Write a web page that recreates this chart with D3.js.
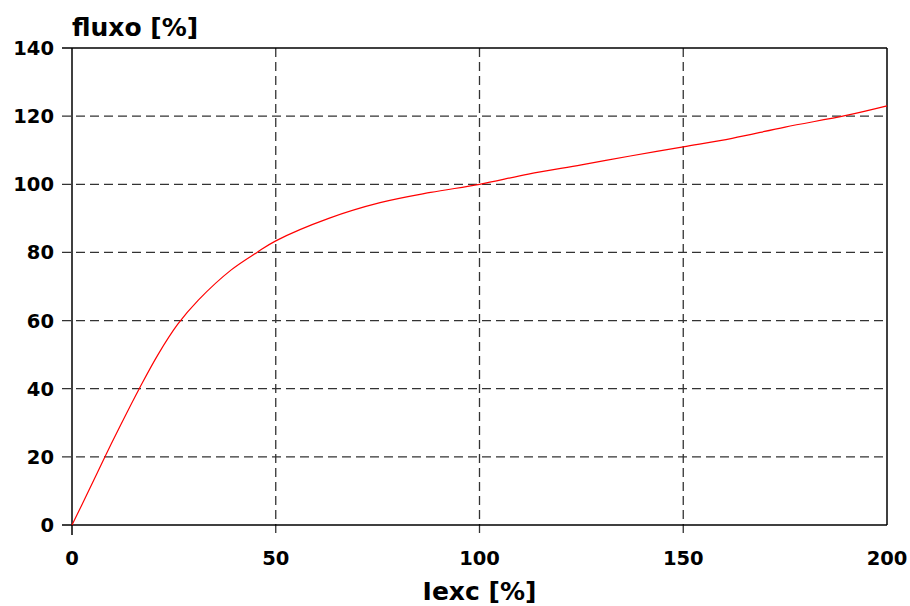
<!DOCTYPE html>
<html>
<head>
<meta charset="utf-8">
<script src="https://cdn.jsdelivr.net/npm/d3@7"></script>
<style>
    body { margin: 0; background: #fff; }
    svg text { font-family: 'DejaVu Sans', sans-serif; font-weight: bold; fill: #000; }
</style>
</head>
<body>
<div id="chart"></div>
<script>
'use strict';

// Data
const iexc  = [0, 4, 8, 12, 16.5, 21, 26, 31, 39, 45.4, 50, 63, 75.6, 88, 100, 112, 125, 137, 150, 162, 175, 190, 200];
const fluxo = [0, 9.8, 19.8, 29.5, 40, 49.8, 59, 66, 74.8, 80, 83.4, 90, 94.6, 97.6, 100, 103, 105.7, 108.3, 111, 113.5, 116.8, 120.2, 123];
const xTicks = [0, 50, 100, 150, 200];
const yTicks = [0, 20, 40, 60, 80, 100, 120, 140];

// Config svg
const w = 910, h = 606;
const margin = {top: 48, right: 23, bottom: 81, left: 72};
const gW = w - margin.left - margin.right;
const gH = h - margin.top - margin.bottom;

const svg = d3.select('#chart')
    .append('svg')
    .attr('width', w)
    .attr('height', h);

const g = svg.append('g')
    .attr('transform', `translate(${margin.left},${margin.top})`);

// Scales
const x = d3.scaleLinear().domain([0, 200]).range([0, gW]);
const y = d3.scaleLinear().domain([0, 140]).range([gH, 0]);

// Horizontal grid (dashed, with tick stub on the left)
g.selectAll('.hgrid')
    .data(yTicks.filter(d => d > 0 && d < 140))
    .join('line')
    .attr('class', 'hgrid')
    .attr('x1', -10).attr('x2', gW)
    .attr('y1', d => y(d)).attr('y2', d => y(d))
    .attr('stroke', '#333')
    .attr('stroke-width', 1.3)
    .attr('stroke-dasharray', '9,5');

// Vertical grid
g.selectAll('.vgrid')
    .data(xTicks.filter(d => d > 0 && d < 200))
    .join('line')
    .attr('class', 'vgrid')
    .attr('y1', 0).attr('y2', gH + 10)
    .attr('x1', d => x(d)).attr('x2', d => x(d))
    .attr('stroke', '#333')
    .attr('stroke-width', 1.3)
    .attr('stroke-dasharray', '9,5');

// Frame
const frame = g.append('g').attr('stroke', '#000').attr('stroke-width', 1.5);
frame.append('line').attr('x1', -10).attr('x2', gW).attr('y1', gH).attr('y2', gH);
frame.append('line').attr('x1', -10).attr('x2', gW).attr('y1', 0).attr('y2', 0);
frame.append('line').attr('x1', 0).attr('x2', 0).attr('y1', 0).attr('y2', gH + 10);
frame.append('line').attr('x1', gW).attr('x2', gW).attr('y1', 0).attr('y2', gH);

// Tick labels
g.selectAll('.ylab')
    .data(yTicks)
    .join('text')
    .attr('class', 'ylab')
    .attr('x', -18)
    .attr('y', d => y(d))
    .attr('dy', '0.36em')
    .attr('text-anchor', 'end')
    .style('font-size', '19.5px')
    .text(d => d);

g.selectAll('.xlab')
    .data(xTicks)
    .join('text')
    .attr('class', 'xlab')
    .attr('x', d => x(d))
    .attr('y', gH + 40)
    .attr('text-anchor', 'middle')
    .style('font-size', '19.5px')
    .text(d => d);

// Axis titles
svg.append('text')
    .attr('x', margin.left)
    .attr('y', 36)
    .style('font-size', '25px')
    .text('fluxo [%]');

svg.append('text')
    .attr('x', margin.left + x(100))
    .attr('y', 600)
    .attr('text-anchor', 'middle')
    .style('font-size', '25px')
    .text('Iexc [%]');

// Curve
const pts = iexc.map((d, i) => [d, fluxo[i]]);
g.append('path')
    .datum(pts)
    .attr('fill', 'none')
    .attr('stroke', '#ff0000')
    .attr('stroke-width', 1.2)
    .attr('d', d3.line()
        .x(d => x(d[0]))
        .y(d => y(d[1]))
        .curve(d3.curveCatmullRom.alpha(0.5)));
</script>
</body>
</html>
